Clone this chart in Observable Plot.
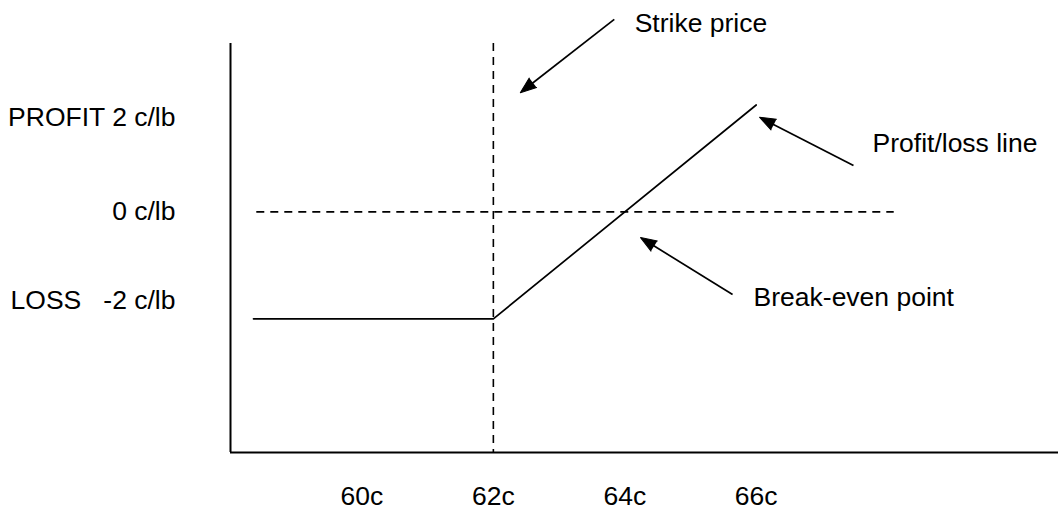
<!DOCTYPE html>
<html><head><meta charset="utf-8">
<script src="https://cdn.jsdelivr.net/npm/d3@7"></script>
<script src="https://cdn.jsdelivr.net/npm/@observablehq/plot@0.6"></script>
<style>html,body{margin:0;padding:0;background:#fff;} svg{display:block}</style>
</head><body><div id="chart"></div>
<script>
// ---- data ----
const xTicks = [60, 62, 64, 66];                 // price, cents
const yLabels = ["PROFIT 2 c/lb", "0 c/lb", "LOSS\u00a0\u00a0\u00a0-2 c/lb"];
const yLabelAt = [1.76, 0, -1.65];               // where the left-hand labels sit (c/lb)
const payoffPrice = [58.35, 62, 66];             // profit/loss line
const payoffPL = [-2, -2, 2];
const strikePrice = 62;
const zeroFrom = 58.4, zeroTo = 68.1;            // dashed zero line extent
const notes = ["Strike price", "Profit/loss line", "Break-even point"];
const noteX = [64.15, 67.77, 65.96];
const noteY = [3.52, 1.28, -1.6];
const arrowFromX = [63.84, 67.48, 65.64];
const arrowFromY = [3.60, 0.87, -1.545];
const arrowToX = [62.41, 66.05, 64.24];
const arrowToY = [2.23, 1.77, -0.48];

// ---- layout ----
const W = 1058, H = 513;
const mL = 230, mR = 0, mT = 43, mB = 61;
const xDomain = [58, 70.6], yDomain = [-4.5, 3.15];
const font = "'Liberation Sans', Arial, Helvetica, sans-serif";
const FS = 26.5;

const xs = Plot.scale({x: {domain: xDomain, range: [mL, W - mR]}});
const ys = Plot.scale({y: {domain: yDomain, range: [H - mB, mT]}});

const payoff = payoffPrice.map((p, i) => ({price: p, pl: payoffPL[i]}));
const notesData = notes.map((t, i) => ({text: t, x: noteX[i], y: noteY[i]}));
const arrows = arrowFromX.map((fx, i) => {
  const px1 = xs.apply(fx), py1 = ys.apply(arrowFromY[i]);
  const px2 = xs.apply(arrowToX[i]), py2 = ys.apply(arrowToY[i]);
  const dx = px2 - px1, dy = py2 - py1, len = Math.hypot(dx, dy);
  const back = 8;
  return {
    fx, fy: arrowFromY[i], tx: arrowToX[i], ty: arrowToY[i],
    ex: xs.invert(px2 - dx / len * back), ey: ys.invert(py2 - dy / len * back),
    angle: Math.atan2(dx, -dy) * 180 / Math.PI
  };
});

const chart = Plot.plot({
  width: W, height: H,
  marginLeft: mL, marginRight: mR, marginTop: mT, marginBottom: mB,
  x: {domain: xDomain},
  y: {domain: yDomain},
  style: {fontFamily: font, fontSize: FS + "px", color: "black", background: "white", overflow: "visible"},
  marks: [
    Plot.axisX({ticks: xTicks, tickFormat: d => d + "c", tickSize: 0, tickPadding: 34, fontSize: FS, fontFamily: font, fill: "black"}),
    Plot.axisY({ticks: yLabelAt, tickFormat: d => yLabels[yLabelAt.indexOf(d)], tickSize: 0, tickPadding: 55, fontSize: FS, fontFamily: font, fill: "black"}),
    Plot.ruleX([xDomain[0]], {stroke: "black", strokeWidth: 2}),
    Plot.ruleY([yDomain[0]], {stroke: "black", strokeWidth: 2}),
    Plot.ruleX([strikePrice], {stroke: "black", strokeWidth: 1.6, strokeDasharray: "8,6"}),
    Plot.ruleY([0], {x1: zeroFrom, x2: zeroTo, stroke: "black", strokeWidth: 1.6, strokeDasharray: "8,6"}),
    Plot.line(payoff, {x: "price", y: "pl", stroke: "black", strokeWidth: 1.7}),
    Plot.link(arrows, {x1: "fx", y1: "fy", x2: "ex", y2: "ey", stroke: "black", strokeWidth: 1.7}),
    Plot.vector(arrows, {x: "tx", y: "ty", rotate: "angle", length: 16, r: 6, shape: "spike", anchor: "end", fill: "black", stroke: "black", strokeWidth: 1}),
    Plot.text(notesData, {x: "x", y: "y", text: "text", textAnchor: "start", fontSize: FS, fontFamily: font, fill: "black"})
  ]
});
document.getElementById("chart").append(chart);
</script>
</body></html>
